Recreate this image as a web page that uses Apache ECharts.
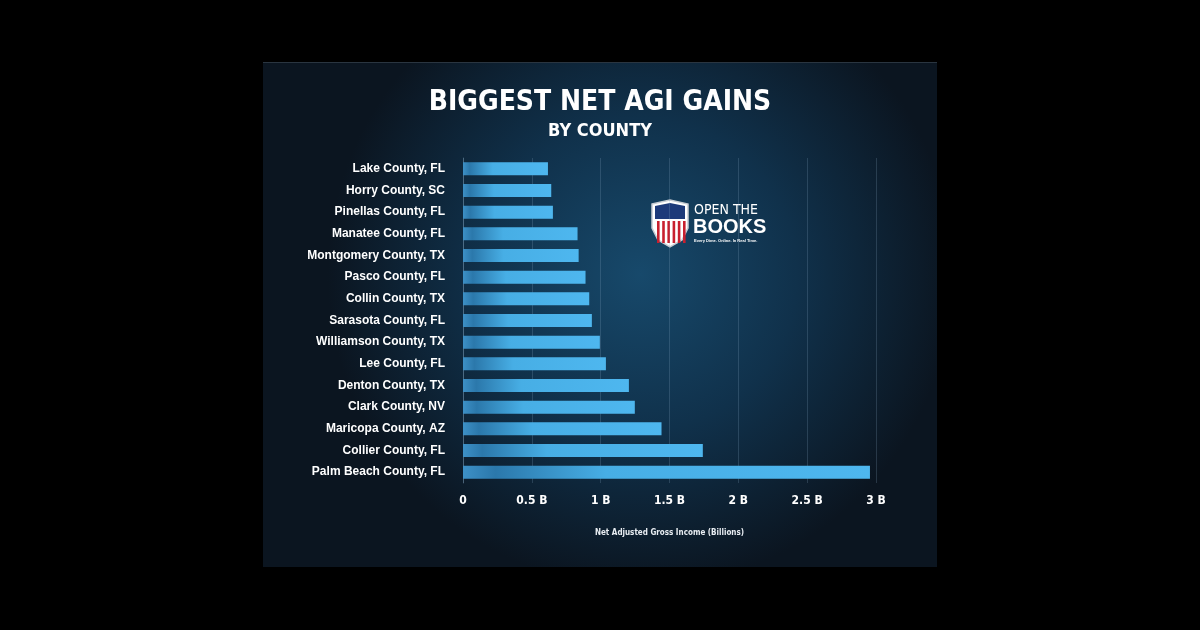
<!DOCTYPE html>
<html style="height: 100%">
<head>
<meta charset="utf-8">
</head>
<body style="height: 100%; margin: 0; background: #000">
<div id="container" style="width: 1200px; height: 630px"></div>
<script src="https://cdn.jsdelivr.net/npm/echarts@6/dist/echarts.min.js"></script>
<script>
var counties = [
    'Lake County, FL', 'Horry County, SC', 'Pinellas County, FL', 'Manatee County, FL',
    'Montgomery County, TX', 'Pasco County, FL', 'Collin County, TX', 'Sarasota County, FL',
    'Williamson County, TX', 'Lee County, FL', 'Denton County, TX', 'Clark County, NV',
    'Maricopa County, AZ', 'Collier County, FL', 'Palm Beach County, FL'
];
// net AGI gain, billions of dollars
var netAgi = [0.617, 0.641, 0.653, 0.832, 0.840, 0.890, 0.917, 0.936, 0.994, 1.038, 1.205, 1.248, 1.442, 1.742, 2.956];

var condensed = '"DejaVu Sans Condensed", sans-serif';
var narrow = '"Liberation Sans", Arial, sans-serif';

var myChart = echarts.init(document.getElementById('container'));

var barFill = new echarts.graphic.LinearGradient(0, 0, 1, 0, [
    {offset: 0, color: '#3d90c6'},
    {offset: 0.08, color: '#2b78ab'},
    {offset: 0.35, color: '#47aee5'},
    {offset: 1, color: '#4eb7ef'}
]);

// shield stripes for the logo
var stripes = [];
for (var i = 0; i < 6; i++) {
    stripes.push({
        type: 'rect',
        shape: {x: 657 + i * 5.2, y: 221, width: 2.6, height: 22},
        style: {fill: '#c8202f'}
    });
}

var option = {
    backgroundColor: '#000',
    graphic: [
        {
            type: 'rect', z: -10, silent: true,
            shape: {x: 263, y: 62, width: 674, height: 505},
            style: {
                fill: new echarts.graphic.RadialGradient(0.56, 0.42, 0.62, [
                    {offset: 0, color: '#17496b'},
                    {offset: 0.5, color: '#10314b'},
                    {offset: 1, color: '#0b1520'}
                ])
            }
        },
        {
            type: 'line', z: -9, silent: true,
            shape: {x1: 263, y1: 62.5, x2: 937, y2: 62.5},
            style: {stroke: '#2a3540', lineWidth: 1}
        },
        {
            type: 'text', left: 'center', top: 89,
            style: {text: 'BIGGEST NET AGI GAINS', fill: '#fff', font: 'bold 28px ' + condensed}
        },
        {
            type: 'text', left: 'center', top: 122,
            style: {text: 'BY COUNTY', fill: '#fff', font: 'bold 18px ' + condensed}
        },
        {
            type: 'group', z: 5,
            children: [
                {
                    type: 'polygon',
                    shape: {points: [[652, 204], [670, 200], [688, 204], [688, 228], [682, 240], [670, 247], [658, 240], [652, 228]]},
                    style: {fill: '#fff', stroke: '#c7ccd3', lineWidth: 1.5}
                },
                {
                    type: 'polygon',
                    shape: {points: [[655, 206], [670, 203], [685, 206], [685, 219], [655, 219]]},
                    style: {fill: '#1d3a7a'}
                }
            ].concat(stripes).concat([
                {
                    type: 'text', x: 694, y: 203,
                    style: {text: 'OPEN THE', fill: '#fff', font: '14px ' + condensed}
                },
                {
                    type: 'text', x: 693, y: 217,
                    style: {text: 'BOOKS', fill: '#fff', font: 'bold 20px ' + narrow}
                },
                {
                    type: 'text', x: 694, y: 239,
                    style: {text: 'Every Dime. Online. In Real Time.', fill: '#fff', font: 'bold 4px sans-serif'}
                }
            ])
        }
    ],
    grid: {
        left: 463,
        right: 324,
        top: 158,
        height: 325
    },
    xAxis: {
        type: 'value',
        min: 0,
        max: 3,
        interval: 0.5,
        name: 'Net Adjusted Gross Income (Billions)',
        nameLocation: 'middle',
        nameGap: 46,
        nameTextStyle: {color: '#e8edf2', fontSize: 8, fontWeight: 'bold', fontFamily: condensed},
        axisLine: {show: false},
        axisTick: {show: false},
        axisLabel: {
            color: '#fff',
            fontSize: 12,
            fontWeight: 'bold',
            fontFamily: condensed,
            margin: 12,
            formatter: function (v) {
                return v === 0 ? '0' : v + ' B';
            }
        },
        splitLine: {lineStyle: {color: 'rgba(140,175,200,0.22)', width: 1}}
    },
    yAxis: {
        type: 'category',
        data: counties,
        inverse: true,
        axisLine: {show: true, lineStyle: {color: 'rgba(140,175,200,0.35)'}},
        axisTick: {show: false},
        axisLabel: {
            color: '#fff',
            fontSize: 12,
            fontWeight: 'bold',
            fontFamily: narrow,
            margin: 18
        }
    },
    series: [{
        type: 'bar',
        data: netAgi,
        barWidth: 13,
        itemStyle: {color: barFill},
        silent: true
    }]
};

myChart.setOption(option);
</script>
</body>
</html>
